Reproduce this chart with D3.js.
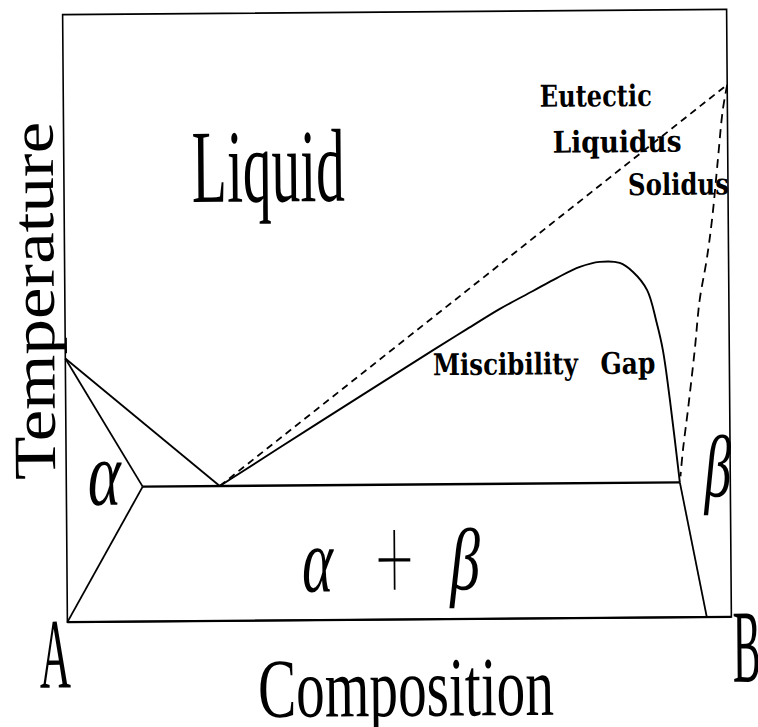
<!DOCTYPE html>
<html>
<head>
<meta charset="utf-8">
<script src="https://cdn.jsdelivr.net/npm/d3@7"></script>
<style>
  html, body { margin: 0; padding: 0; background: #fff; }
  svg { display: block; }
  .big { font-family: "Liberation Serif", "DejaVu Serif", serif; }
  .small { font-family: "DejaVu Serif", "Liberation Serif", serif; font-weight: bold; }
  .greek { font-family: "Liberation Serif", "DejaVu Serif", serif; font-style: italic; }
  .thin { font-family: Inter, "Noto Sans", sans-serif; font-weight: 100; }
</style>
</head>
<body>
<div id="chart"></div>
<script>
// composition in % B, temperature in arbitrary units (0-100)
var liquidusA = [[0, 43.4], [23.1, 22.2]];
var solidusAlpha = [[0, 43.4], [11.5, 22.2]];
var solvusAlpha = [[11.5, 22.2], [0, 0]];
var eutecticLine = [[11.5, 22.2], [92.4, 22.2]];
var gapCurve = [
  [23.1, 22.2], [37.8, 32.3], [55.4, 44.3], [60.5, 47.7], [65.5, 51.0],
  [70.5, 53.9], [74.1, 56.0], [77.6, 57.8], [80.6, 58.6], [83.6, 58.4],
  [85.6, 56.9], [87.7, 53.9], [89.1, 48.5], [90.0, 44.0], [91.0, 35.8],
  [92.4, 22.2]
];
var solvusBeta = [[92.4, 22.2], [96.3, 0]];
var eutecticLiquidus = [[23.1, 22.2], [100, 87.6]];
var eutecticSolidus = [
  [100, 87.6], [99.3, 83.4], [98.5, 75.2], [97.6, 65.8], [96.7, 58.8],
  [95.6, 52.2], [94.8, 44.0], [93.7, 34.1], [92.9, 27.5], [92.5, 23.2]
];
var regionLabels = ['Liquid', 'Miscibility', 'Gap'];
var curveLabels = ['Eutectic', 'Liquidus', 'Solidus'];
var axisLabels = ['Temperature', 'Composition', 'A', 'B'];

var width = 758,
  height = 727,
  margin = {left: 65, right: 29, top: 12, bottom: 107.5};

var x = d3.scaleLinear()
  .domain([0, 100])
  .range([margin.left, width - margin.right]);

var y = d3.scaleLinear()
  .domain([0, 100])
  .range([height - margin.bottom, margin.top]);

var line = d3.line()
  .x(function(d) { return x(d[0]); })
  .y(function(d) { return y(d[1]); });

var svg = d3.select('#chart').append('svg')
  .attr('width', width)
  .attr('height', height);

// the scanned figure sits slightly tilted
var g = svg.append('g')
  .attr('transform', 'rotate(-0.45,396,316)');

// frame
g.append('rect')
  .attr('x', x(0))
  .attr('y', y(100))
  .attr('width', x(100) - x(0))
  .attr('height', y(0) - y(100))
  .attr('fill', 'none')
  .attr('stroke', '#000')
  .attr('stroke-width', 1.6);

g.append('line')
  .attr('x1', x(0)).attr('x2', x(100))
  .attr('y1', y(0)).attr('y2', y(0))
  .attr('stroke', '#000')
  .attr('stroke-width', 2.4);

// solid phase boundaries
[liquidusA, solidusAlpha, solvusAlpha, solvusBeta].forEach(function(d) {
  g.append('path')
    .attr('d', line(d))
    .attr('fill', 'none')
    .attr('stroke', '#000')
    .attr('stroke-width', 1.8);
});

g.append('path')
  .attr('d', line(eutecticLine))
  .attr('fill', 'none')
  .attr('stroke', '#000')
  .attr('stroke-width', 2.4);

g.append('path')
  .attr('d', line.curve(d3.curveCatmullRom)(gapCurve))
  .attr('fill', 'none')
  .attr('stroke', '#000')
  .attr('stroke-width', 1.9);

// dashed metastable eutectic lines
g.append('path')
  .attr('d', line.curve(d3.curveLinear)(eutecticLiquidus))
  .attr('fill', 'none')
  .attr('stroke', '#000')
  .attr('stroke-width', 1.8)
  .attr('stroke-dasharray', '7,5');

g.append('path')
  .attr('d', line.curve(d3.curveCatmullRom)(eutecticSolidus))
  .attr('fill', 'none')
  .attr('stroke', '#000')
  .attr('stroke-width', 1.8)
  .attr('stroke-dasharray', '9,6');

// text squeezed horizontally to a given width
function label(cls, txt, px, py, size, len) {
  var t = g.append('text')
    .attr('class', cls)
    .attr('font-size', size)
    .attr('fill', '#000')
    .text(txt);
  var w = t.node().getComputedTextLength();
  t.attr('transform', 'translate(' + px + ',' + py + ') scale(' + (len / w) + ',1)');
  return t;
}

// big labels
label('big', regionLabels[0], 193, 200.5, 104, 153);
label('big', axisLabels[1], 255, 716, 84, 296);
label('big', axisLabels[2], 37, 685, 100, 31);
label('big', axisLabels[3], 730, 684.5, 104, 28);

var temp = g.append('text')
  .attr('class', 'big')
  .attr('font-size', 60)
  .text(axisLabels[0]);
temp.attr('transform', 'translate(54,477) rotate(-90) scale(' +
  (358 / temp.node().getComputedTextLength()) + ',1)');

// curve labels
label('small', curveLabels[0], 541.5, 108, 30, 112);
label('small', curveLabels[1], 554, 154, 30, 129);
label('small', curveLabels[2], 629, 197, 30, 101);
label('small', regionLabels[1], 432.5, 375.5, 30, 145);
label('small', regionLabels[2], 600, 375.5, 30, 55);

// phase symbols
label('greek', 'α', 86.5, 502.5, 92, 33);
label('greek', 'α', 300, 591, 92, 31);
label('thin', '+', 368, 601, 145, 49);
label('greek', 'β', 448, 590, 88, 30);
label('greek', 'β', 703, 499, 88, 27);
</script>
</body>
</html>
